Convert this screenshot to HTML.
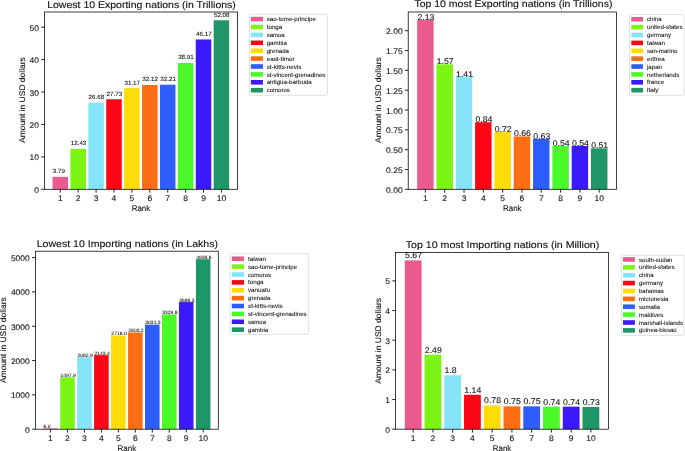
<!DOCTYPE html>
<html><head><meta charset="utf-8"><style>
html,body{margin:0;padding:0;background:#fff;width:685px;height:451px;overflow:hidden}
svg{display:block;font-family:"Liberation Sans",sans-serif;will-change:transform;text-rendering:geometricPrecision}
</style></head><body>
<svg width="685" height="451" viewBox="0 0 685 451">
<rect width="685" height="451" fill="#fff"/>
<rect x="52.52" y="176.86" width="15.52" height="12.44" fill="#ea5a8e"/>
<rect x="70.43" y="148.85" width="15.52" height="40.45" fill="#7cf514"/>
<rect x="88.33" y="102.65" width="15.52" height="86.65" fill="#86e4f8"/>
<rect x="106.23" y="99.24" width="15.52" height="90.06" fill="#fc0515"/>
<rect x="124.14" y="88.09" width="15.52" height="101.21" fill="#fddc0a"/>
<rect x="142.04" y="85.01" width="15.52" height="104.29" fill="#fd6e12"/>
<rect x="159.94" y="84.72" width="15.52" height="104.58" fill="#2d5efd"/>
<rect x="177.85" y="62.99" width="15.52" height="126.31" fill="#4cfa2a"/>
<rect x="195.75" y="39.45" width="15.52" height="149.85" fill="#3a1afa"/>
<rect x="213.65" y="20.29" width="15.52" height="169.01" fill="#1f9668"/>
<text x="52.82" y="173.31" font-size="6.01" text-anchor="start" textLength="12.16" lengthAdjust="spacingAndGlyphs" fill="#111" stroke="#111" stroke-width="0.072" >3.79</text>
<text x="70.73" y="145.30" font-size="6.01" text-anchor="start" textLength="15.63" lengthAdjust="spacingAndGlyphs" fill="#111" stroke="#111" stroke-width="0.072" >12.43</text>
<text x="88.63" y="99.10" font-size="6.01" text-anchor="start" textLength="15.63" lengthAdjust="spacingAndGlyphs" fill="#111" stroke="#111" stroke-width="0.072" >26.68</text>
<text x="106.53" y="95.69" font-size="6.01" text-anchor="start" textLength="15.63" lengthAdjust="spacingAndGlyphs" fill="#111" stroke="#111" stroke-width="0.072" >27.73</text>
<text x="124.44" y="84.54" font-size="6.01" text-anchor="start" textLength="15.63" lengthAdjust="spacingAndGlyphs" fill="#111" stroke="#111" stroke-width="0.072" >31.17</text>
<text x="142.34" y="81.46" font-size="6.01" text-anchor="start" textLength="15.63" lengthAdjust="spacingAndGlyphs" fill="#111" stroke="#111" stroke-width="0.072" >32.12</text>
<text x="160.24" y="81.17" font-size="6.01" text-anchor="start" textLength="15.63" lengthAdjust="spacingAndGlyphs" fill="#111" stroke="#111" stroke-width="0.072" >32.21</text>
<text x="178.15" y="59.44" font-size="6.01" text-anchor="start" textLength="15.63" lengthAdjust="spacingAndGlyphs" fill="#111" stroke="#111" stroke-width="0.072" >38.91</text>
<text x="196.05" y="35.90" font-size="6.01" text-anchor="start" textLength="15.63" lengthAdjust="spacingAndGlyphs" fill="#111" stroke="#111" stroke-width="0.072" >46.17</text>
<text x="213.95" y="16.74" font-size="6.01" text-anchor="start" textLength="15.63" lengthAdjust="spacingAndGlyphs" fill="#111" stroke="#111" stroke-width="0.072" >52.08</text>
<rect x="44.50" y="12.00" width="193.00" height="177.30" fill="none" stroke="#000" stroke-width="0.75"/>
<line x1="41.20" y1="189.30" x2="44.50" y2="189.30" stroke="#000" stroke-width="0.85"/>
<text x="38.90" y="192.85" font-size="8.16" text-anchor="end" textLength="4.72" lengthAdjust="spacingAndGlyphs" fill="#111" stroke="#111" stroke-width="0.098" >0</text>
<line x1="41.20" y1="156.88" x2="44.50" y2="156.88" stroke="#000" stroke-width="0.85"/>
<text x="38.90" y="160.43" font-size="8.16" text-anchor="end" textLength="9.44" lengthAdjust="spacingAndGlyphs" fill="#111" stroke="#111" stroke-width="0.098" >10</text>
<line x1="41.20" y1="124.45" x2="44.50" y2="124.45" stroke="#000" stroke-width="0.85"/>
<text x="38.90" y="128.00" font-size="8.16" text-anchor="end" textLength="9.44" lengthAdjust="spacingAndGlyphs" fill="#111" stroke="#111" stroke-width="0.098" >20</text>
<line x1="41.20" y1="92.03" x2="44.50" y2="92.03" stroke="#000" stroke-width="0.85"/>
<text x="38.90" y="95.58" font-size="8.16" text-anchor="end" textLength="9.44" lengthAdjust="spacingAndGlyphs" fill="#111" stroke="#111" stroke-width="0.098" >30</text>
<line x1="41.20" y1="59.61" x2="44.50" y2="59.61" stroke="#000" stroke-width="0.85"/>
<text x="38.90" y="63.16" font-size="8.16" text-anchor="end" textLength="9.44" lengthAdjust="spacingAndGlyphs" fill="#111" stroke="#111" stroke-width="0.098" >40</text>
<line x1="41.20" y1="27.19" x2="44.50" y2="27.19" stroke="#000" stroke-width="0.85"/>
<text x="38.90" y="30.74" font-size="8.16" text-anchor="end" textLength="9.44" lengthAdjust="spacingAndGlyphs" fill="#111" stroke="#111" stroke-width="0.098" >50</text>
<line x1="60.28" y1="189.30" x2="60.28" y2="192.60" stroke="#000" stroke-width="0.85"/>
<text x="60.28" y="201.20" font-size="8.16" text-anchor="middle" textLength="4.72" lengthAdjust="spacingAndGlyphs" fill="#111" stroke="#111" stroke-width="0.098" >1</text>
<line x1="78.19" y1="189.30" x2="78.19" y2="192.60" stroke="#000" stroke-width="0.85"/>
<text x="78.19" y="201.20" font-size="8.16" text-anchor="middle" textLength="4.72" lengthAdjust="spacingAndGlyphs" fill="#111" stroke="#111" stroke-width="0.098" >2</text>
<line x1="96.09" y1="189.30" x2="96.09" y2="192.60" stroke="#000" stroke-width="0.85"/>
<text x="96.09" y="201.20" font-size="8.16" text-anchor="middle" textLength="4.72" lengthAdjust="spacingAndGlyphs" fill="#111" stroke="#111" stroke-width="0.098" >3</text>
<line x1="113.99" y1="189.30" x2="113.99" y2="192.60" stroke="#000" stroke-width="0.85"/>
<text x="113.99" y="201.20" font-size="8.16" text-anchor="middle" textLength="4.72" lengthAdjust="spacingAndGlyphs" fill="#111" stroke="#111" stroke-width="0.098" >4</text>
<line x1="131.90" y1="189.30" x2="131.90" y2="192.60" stroke="#000" stroke-width="0.85"/>
<text x="131.90" y="201.20" font-size="8.16" text-anchor="middle" textLength="4.72" lengthAdjust="spacingAndGlyphs" fill="#111" stroke="#111" stroke-width="0.098" >5</text>
<line x1="149.80" y1="189.30" x2="149.80" y2="192.60" stroke="#000" stroke-width="0.85"/>
<text x="149.80" y="201.20" font-size="8.16" text-anchor="middle" textLength="4.72" lengthAdjust="spacingAndGlyphs" fill="#111" stroke="#111" stroke-width="0.098" >6</text>
<line x1="167.71" y1="189.30" x2="167.71" y2="192.60" stroke="#000" stroke-width="0.85"/>
<text x="167.71" y="201.20" font-size="8.16" text-anchor="middle" textLength="4.72" lengthAdjust="spacingAndGlyphs" fill="#111" stroke="#111" stroke-width="0.098" >7</text>
<line x1="185.61" y1="189.30" x2="185.61" y2="192.60" stroke="#000" stroke-width="0.85"/>
<text x="185.61" y="201.20" font-size="8.16" text-anchor="middle" textLength="4.72" lengthAdjust="spacingAndGlyphs" fill="#111" stroke="#111" stroke-width="0.098" >8</text>
<line x1="203.51" y1="189.30" x2="203.51" y2="192.60" stroke="#000" stroke-width="0.85"/>
<text x="203.51" y="201.20" font-size="8.16" text-anchor="middle" textLength="4.72" lengthAdjust="spacingAndGlyphs" fill="#111" stroke="#111" stroke-width="0.098" >9</text>
<line x1="221.42" y1="189.30" x2="221.42" y2="192.60" stroke="#000" stroke-width="0.85"/>
<text x="221.42" y="201.20" font-size="8.16" text-anchor="middle" textLength="9.44" lengthAdjust="spacingAndGlyphs" fill="#111" stroke="#111" stroke-width="0.098" >10</text>
<text x="141.00" y="211.20" font-size="8.16" text-anchor="middle" textLength="18.54" lengthAdjust="spacingAndGlyphs" fill="#111" stroke="#111" stroke-width="0.098" >Rank</text>
<text x="0.00" y="0.00" font-size="8.16" text-anchor="middle" textLength="85.78" lengthAdjust="spacingAndGlyphs" fill="#111" stroke="#111" stroke-width="0.098" transform="translate(25.00,100.05) rotate(-90)">Amount in USD dollars</text>
<text x="141.50" y="7.55" font-size="9.75" text-anchor="middle" textLength="188.65" lengthAdjust="spacingAndGlyphs" fill="#111" stroke="#111" stroke-width="0.117" >Lowest 10 Exporting nations (in Trillions)</text>
<rect x="249.40" y="14.30" width="78.10" height="81.00" rx="1.2" fill="#fff" fill-opacity="0.8" stroke="#d6dcd8" stroke-width="0.8"/>
<rect x="250.90" y="16.80" width="12.10" height="4.60" fill="#ea5a8e"/>
<text x="266.70" y="21.20" font-size="5.94" text-anchor="start" textLength="49.22" lengthAdjust="spacingAndGlyphs" fill="#111" stroke="#111" stroke-width="0.071" >sao-tome-principe</text>
<rect x="250.90" y="24.70" width="12.10" height="4.60" fill="#7cf514"/>
<text x="266.70" y="29.10" font-size="5.94" text-anchor="start" textLength="15.58" lengthAdjust="spacingAndGlyphs" fill="#111" stroke="#111" stroke-width="0.071" >tonga</text>
<rect x="250.90" y="32.60" width="12.10" height="4.60" fill="#86e4f8"/>
<text x="266.70" y="37.00" font-size="5.94" text-anchor="start" textLength="18.00" lengthAdjust="spacingAndGlyphs" fill="#111" stroke="#111" stroke-width="0.071" >samoa</text>
<rect x="250.90" y="40.50" width="12.10" height="4.60" fill="#fc0515"/>
<text x="266.70" y="44.90" font-size="5.94" text-anchor="start" textLength="20.23" lengthAdjust="spacingAndGlyphs" fill="#111" stroke="#111" stroke-width="0.071" >gambia</text>
<rect x="250.90" y="48.40" width="12.10" height="4.60" fill="#fddc0a"/>
<text x="266.70" y="52.80" font-size="5.94" text-anchor="start" textLength="22.32" lengthAdjust="spacingAndGlyphs" fill="#111" stroke="#111" stroke-width="0.071" >grenada</text>
<rect x="250.90" y="56.30" width="12.10" height="4.60" fill="#fd6e12"/>
<text x="266.70" y="60.70" font-size="5.94" text-anchor="start" textLength="27.91" lengthAdjust="spacingAndGlyphs" fill="#111" stroke="#111" stroke-width="0.071" >east-timor</text>
<rect x="250.90" y="64.20" width="12.10" height="4.60" fill="#2d5efd"/>
<text x="266.70" y="68.60" font-size="5.94" text-anchor="start" textLength="34.76" lengthAdjust="spacingAndGlyphs" fill="#111" stroke="#111" stroke-width="0.071" >st-kitts-nevis</text>
<rect x="250.90" y="72.10" width="12.10" height="4.60" fill="#4cfa2a"/>
<text x="266.70" y="76.50" font-size="5.94" text-anchor="start" textLength="58.70" lengthAdjust="spacingAndGlyphs" fill="#111" stroke="#111" stroke-width="0.071" >st-vincent-grenadines</text>
<rect x="250.90" y="80.00" width="12.10" height="4.60" fill="#3a1afa"/>
<text x="266.70" y="84.40" font-size="5.94" text-anchor="start" textLength="45.00" lengthAdjust="spacingAndGlyphs" fill="#111" stroke="#111" stroke-width="0.071" >antigua-barbuda</text>
<rect x="250.90" y="87.90" width="12.10" height="4.60" fill="#1f9668"/>
<text x="266.70" y="92.30" font-size="5.94" text-anchor="start" textLength="23.06" lengthAdjust="spacingAndGlyphs" fill="#111" stroke="#111" stroke-width="0.071" >comoros</text>
<rect x="417.16" y="19.94" width="16.45" height="169.36" fill="#ea5a8e"/>
<rect x="436.48" y="64.34" width="16.45" height="124.96" fill="#7cf514"/>
<rect x="455.79" y="77.02" width="16.45" height="112.28" fill="#86e4f8"/>
<rect x="475.10" y="122.21" width="16.45" height="67.09" fill="#fc0515"/>
<rect x="494.42" y="131.72" width="16.45" height="57.58" fill="#fddc0a"/>
<rect x="513.73" y="136.48" width="16.45" height="52.82" fill="#fd6e12"/>
<rect x="533.04" y="138.86" width="16.45" height="50.44" fill="#2d5efd"/>
<rect x="552.36" y="145.99" width="16.45" height="43.31" fill="#4cfa2a"/>
<rect x="571.67" y="145.99" width="16.45" height="43.31" fill="#3a1afa"/>
<rect x="590.99" y="148.37" width="16.45" height="40.93" fill="#1f9668"/>
<text x="417.46" y="19.94" font-size="8.36" text-anchor="start" textLength="16.92" lengthAdjust="spacingAndGlyphs" fill="#111" stroke="#111" stroke-width="0.100" >2.13</text>
<text x="436.78" y="64.34" font-size="8.36" text-anchor="start" textLength="16.92" lengthAdjust="spacingAndGlyphs" fill="#111" stroke="#111" stroke-width="0.100" >1.57</text>
<text x="456.09" y="77.02" font-size="8.36" text-anchor="start" textLength="16.92" lengthAdjust="spacingAndGlyphs" fill="#111" stroke="#111" stroke-width="0.100" >1.41</text>
<text x="475.40" y="122.21" font-size="8.36" text-anchor="start" textLength="16.92" lengthAdjust="spacingAndGlyphs" fill="#111" stroke="#111" stroke-width="0.100" >0.84</text>
<text x="494.72" y="131.72" font-size="8.36" text-anchor="start" textLength="16.92" lengthAdjust="spacingAndGlyphs" fill="#111" stroke="#111" stroke-width="0.100" >0.72</text>
<text x="514.03" y="136.48" font-size="8.36" text-anchor="start" textLength="16.92" lengthAdjust="spacingAndGlyphs" fill="#111" stroke="#111" stroke-width="0.100" >0.66</text>
<text x="533.34" y="138.86" font-size="8.36" text-anchor="start" textLength="16.92" lengthAdjust="spacingAndGlyphs" fill="#111" stroke="#111" stroke-width="0.100" >0.63</text>
<text x="552.66" y="145.99" font-size="8.36" text-anchor="start" textLength="16.92" lengthAdjust="spacingAndGlyphs" fill="#111" stroke="#111" stroke-width="0.100" >0.54</text>
<text x="571.97" y="145.99" font-size="8.36" text-anchor="start" textLength="16.92" lengthAdjust="spacingAndGlyphs" fill="#111" stroke="#111" stroke-width="0.100" >0.54</text>
<text x="591.29" y="148.37" font-size="8.36" text-anchor="start" textLength="16.92" lengthAdjust="spacingAndGlyphs" fill="#111" stroke="#111" stroke-width="0.100" >0.51</text>
<rect x="408.20" y="12.00" width="208.20" height="177.30" fill="none" stroke="#000" stroke-width="0.75"/>
<line x1="404.90" y1="189.30" x2="408.20" y2="189.30" stroke="#000" stroke-width="0.85"/>
<text x="402.60" y="192.85" font-size="8.16" text-anchor="end" textLength="16.52" lengthAdjust="spacingAndGlyphs" fill="#111" stroke="#111" stroke-width="0.098" >0.00</text>
<line x1="404.90" y1="169.48" x2="408.20" y2="169.48" stroke="#000" stroke-width="0.85"/>
<text x="402.60" y="173.03" font-size="8.16" text-anchor="end" textLength="16.52" lengthAdjust="spacingAndGlyphs" fill="#111" stroke="#111" stroke-width="0.098" >0.25</text>
<line x1="404.90" y1="149.66" x2="408.20" y2="149.66" stroke="#000" stroke-width="0.85"/>
<text x="402.60" y="153.21" font-size="8.16" text-anchor="end" textLength="16.52" lengthAdjust="spacingAndGlyphs" fill="#111" stroke="#111" stroke-width="0.098" >0.50</text>
<line x1="404.90" y1="129.84" x2="408.20" y2="129.84" stroke="#000" stroke-width="0.85"/>
<text x="402.60" y="133.39" font-size="8.16" text-anchor="end" textLength="16.52" lengthAdjust="spacingAndGlyphs" fill="#111" stroke="#111" stroke-width="0.098" >0.75</text>
<line x1="404.90" y1="110.02" x2="408.20" y2="110.02" stroke="#000" stroke-width="0.85"/>
<text x="402.60" y="113.57" font-size="8.16" text-anchor="end" textLength="16.52" lengthAdjust="spacingAndGlyphs" fill="#111" stroke="#111" stroke-width="0.098" >1.00</text>
<line x1="404.90" y1="90.21" x2="408.20" y2="90.21" stroke="#000" stroke-width="0.85"/>
<text x="402.60" y="93.76" font-size="8.16" text-anchor="end" textLength="16.52" lengthAdjust="spacingAndGlyphs" fill="#111" stroke="#111" stroke-width="0.098" >1.25</text>
<line x1="404.90" y1="70.39" x2="408.20" y2="70.39" stroke="#000" stroke-width="0.85"/>
<text x="402.60" y="73.94" font-size="8.16" text-anchor="end" textLength="16.52" lengthAdjust="spacingAndGlyphs" fill="#111" stroke="#111" stroke-width="0.098" >1.50</text>
<line x1="404.90" y1="50.57" x2="408.20" y2="50.57" stroke="#000" stroke-width="0.85"/>
<text x="402.60" y="54.12" font-size="8.16" text-anchor="end" textLength="16.52" lengthAdjust="spacingAndGlyphs" fill="#111" stroke="#111" stroke-width="0.098" >1.75</text>
<line x1="404.90" y1="30.75" x2="408.20" y2="30.75" stroke="#000" stroke-width="0.85"/>
<text x="402.60" y="34.30" font-size="8.16" text-anchor="end" textLength="16.52" lengthAdjust="spacingAndGlyphs" fill="#111" stroke="#111" stroke-width="0.098" >2.00</text>
<line x1="425.39" y1="189.30" x2="425.39" y2="192.60" stroke="#000" stroke-width="0.85"/>
<text x="425.39" y="201.20" font-size="8.16" text-anchor="middle" textLength="4.72" lengthAdjust="spacingAndGlyphs" fill="#111" stroke="#111" stroke-width="0.098" >1</text>
<line x1="444.70" y1="189.30" x2="444.70" y2="192.60" stroke="#000" stroke-width="0.85"/>
<text x="444.70" y="201.20" font-size="8.16" text-anchor="middle" textLength="4.72" lengthAdjust="spacingAndGlyphs" fill="#111" stroke="#111" stroke-width="0.098" >2</text>
<line x1="464.02" y1="189.30" x2="464.02" y2="192.60" stroke="#000" stroke-width="0.85"/>
<text x="464.02" y="201.20" font-size="8.16" text-anchor="middle" textLength="4.72" lengthAdjust="spacingAndGlyphs" fill="#111" stroke="#111" stroke-width="0.098" >3</text>
<line x1="483.33" y1="189.30" x2="483.33" y2="192.60" stroke="#000" stroke-width="0.85"/>
<text x="483.33" y="201.20" font-size="8.16" text-anchor="middle" textLength="4.72" lengthAdjust="spacingAndGlyphs" fill="#111" stroke="#111" stroke-width="0.098" >4</text>
<line x1="502.64" y1="189.30" x2="502.64" y2="192.60" stroke="#000" stroke-width="0.85"/>
<text x="502.64" y="201.20" font-size="8.16" text-anchor="middle" textLength="4.72" lengthAdjust="spacingAndGlyphs" fill="#111" stroke="#111" stroke-width="0.098" >5</text>
<line x1="521.96" y1="189.30" x2="521.96" y2="192.60" stroke="#000" stroke-width="0.85"/>
<text x="521.96" y="201.20" font-size="8.16" text-anchor="middle" textLength="4.72" lengthAdjust="spacingAndGlyphs" fill="#111" stroke="#111" stroke-width="0.098" >6</text>
<line x1="541.27" y1="189.30" x2="541.27" y2="192.60" stroke="#000" stroke-width="0.85"/>
<text x="541.27" y="201.20" font-size="8.16" text-anchor="middle" textLength="4.72" lengthAdjust="spacingAndGlyphs" fill="#111" stroke="#111" stroke-width="0.098" >7</text>
<line x1="560.58" y1="189.30" x2="560.58" y2="192.60" stroke="#000" stroke-width="0.85"/>
<text x="560.58" y="201.20" font-size="8.16" text-anchor="middle" textLength="4.72" lengthAdjust="spacingAndGlyphs" fill="#111" stroke="#111" stroke-width="0.098" >8</text>
<line x1="579.90" y1="189.30" x2="579.90" y2="192.60" stroke="#000" stroke-width="0.85"/>
<text x="579.90" y="201.20" font-size="8.16" text-anchor="middle" textLength="4.72" lengthAdjust="spacingAndGlyphs" fill="#111" stroke="#111" stroke-width="0.098" >9</text>
<line x1="599.21" y1="189.30" x2="599.21" y2="192.60" stroke="#000" stroke-width="0.85"/>
<text x="599.21" y="201.20" font-size="8.16" text-anchor="middle" textLength="9.44" lengthAdjust="spacingAndGlyphs" fill="#111" stroke="#111" stroke-width="0.098" >10</text>
<text x="512.30" y="211.20" font-size="8.16" text-anchor="middle" textLength="18.54" lengthAdjust="spacingAndGlyphs" fill="#111" stroke="#111" stroke-width="0.098" >Rank</text>
<text x="0.00" y="0.00" font-size="8.16" text-anchor="middle" textLength="85.78" lengthAdjust="spacingAndGlyphs" fill="#111" stroke="#111" stroke-width="0.098" transform="translate(381.30,100.05) rotate(-90)">Amount in USD dollars</text>
<text x="513.40" y="7.25" font-size="9.75" text-anchor="middle" textLength="198.01" lengthAdjust="spacingAndGlyphs" fill="#111" stroke="#111" stroke-width="0.117" >Top 10 most Exporting nations (in Trillions)</text>
<rect x="629.60" y="14.60" width="54.60" height="80.70" rx="1.2" fill="#fff" fill-opacity="0.8" stroke="#d6dcd8" stroke-width="0.8"/>
<rect x="631.30" y="16.95" width="11.70" height="4.60" fill="#ea5a8e"/>
<text x="647.00" y="21.35" font-size="5.94" text-anchor="start" textLength="14.62" lengthAdjust="spacingAndGlyphs" fill="#111" stroke="#111" stroke-width="0.071" >china</text>
<rect x="631.30" y="24.83" width="11.70" height="4.60" fill="#7cf514"/>
<text x="647.00" y="29.23" font-size="5.94" text-anchor="start" textLength="35.65" lengthAdjust="spacingAndGlyphs" fill="#111" stroke="#111" stroke-width="0.071" >united-states</text>
<rect x="631.30" y="32.71" width="11.70" height="4.60" fill="#86e4f8"/>
<text x="647.00" y="37.11" font-size="5.94" text-anchor="start" textLength="24.06" lengthAdjust="spacingAndGlyphs" fill="#111" stroke="#111" stroke-width="0.071" >germany</text>
<rect x="631.30" y="40.59" width="11.70" height="4.60" fill="#fc0515"/>
<text x="647.00" y="44.99" font-size="5.94" text-anchor="start" textLength="18.07" lengthAdjust="spacingAndGlyphs" fill="#111" stroke="#111" stroke-width="0.071" >taiwan</text>
<rect x="631.30" y="48.47" width="11.70" height="4.60" fill="#fddc0a"/>
<text x="647.00" y="52.87" font-size="5.94" text-anchor="start" textLength="30.51" lengthAdjust="spacingAndGlyphs" fill="#111" stroke="#111" stroke-width="0.071" >san-marino</text>
<rect x="631.30" y="56.35" width="11.70" height="4.60" fill="#fd6e12"/>
<text x="647.00" y="60.75" font-size="5.94" text-anchor="start" textLength="17.89" lengthAdjust="spacingAndGlyphs" fill="#111" stroke="#111" stroke-width="0.071" >eritrea</text>
<rect x="631.30" y="64.23" width="11.70" height="4.60" fill="#2d5efd"/>
<text x="647.00" y="68.63" font-size="5.94" text-anchor="start" textLength="14.97" lengthAdjust="spacingAndGlyphs" fill="#111" stroke="#111" stroke-width="0.071" >japan</text>
<rect x="631.30" y="72.11" width="11.70" height="4.60" fill="#4cfa2a"/>
<text x="647.00" y="76.51" font-size="5.94" text-anchor="start" textLength="32.30" lengthAdjust="spacingAndGlyphs" fill="#111" stroke="#111" stroke-width="0.071" >netherlands</text>
<rect x="631.30" y="79.99" width="11.70" height="4.60" fill="#3a1afa"/>
<text x="647.00" y="84.39" font-size="5.94" text-anchor="start" textLength="17.14" lengthAdjust="spacingAndGlyphs" fill="#111" stroke="#111" stroke-width="0.071" >france</text>
<rect x="631.30" y="87.87" width="11.70" height="4.60" fill="#1f9668"/>
<text x="647.00" y="92.27" font-size="5.94" text-anchor="start" textLength="11.62" lengthAdjust="spacingAndGlyphs" fill="#111" stroke="#111" stroke-width="0.071" >italy</text>
<rect x="43.21" y="428.49" width="14.57" height="0.71" fill="#ea5a8e"/>
<rect x="60.18" y="377.28" width="14.57" height="51.92" fill="#7cf514"/>
<rect x="77.15" y="357.20" width="14.57" height="72.00" fill="#86e4f8"/>
<rect x="94.11" y="355.13" width="14.57" height="74.07" fill="#fc0515"/>
<rect x="111.08" y="335.47" width="14.57" height="93.73" fill="#fddc0a"/>
<rect x="128.05" y="332.48" width="14.57" height="96.72" fill="#fd6e12"/>
<rect x="145.01" y="324.65" width="14.57" height="104.55" fill="#2d5efd"/>
<rect x="161.98" y="314.40" width="14.57" height="114.80" fill="#4cfa2a"/>
<rect x="178.95" y="302.09" width="14.57" height="127.11" fill="#3a1afa"/>
<rect x="195.91" y="259.18" width="14.57" height="170.02" fill="#1f9668"/>
<text x="43.51" y="428.09" font-size="4.81" text-anchor="start" textLength="6.95" lengthAdjust="spacingAndGlyphs" fill="#111" stroke="#111" stroke-width="0.058" >6.0</text>
<text x="60.48" y="376.88" font-size="4.81" text-anchor="start" textLength="15.29" lengthAdjust="spacingAndGlyphs" fill="#111" stroke="#111" stroke-width="0.058" >1497.9</text>
<text x="77.45" y="356.80" font-size="4.81" text-anchor="start" textLength="15.29" lengthAdjust="spacingAndGlyphs" fill="#111" stroke="#111" stroke-width="0.058" >2082.9</text>
<text x="94.41" y="354.73" font-size="4.81" text-anchor="start" textLength="15.29" lengthAdjust="spacingAndGlyphs" fill="#111" stroke="#111" stroke-width="0.058" >2143.4</text>
<text x="111.38" y="335.07" font-size="4.81" text-anchor="start" textLength="15.29" lengthAdjust="spacingAndGlyphs" fill="#111" stroke="#111" stroke-width="0.058" >2716.0</text>
<text x="128.35" y="332.08" font-size="4.81" text-anchor="start" textLength="15.29" lengthAdjust="spacingAndGlyphs" fill="#111" stroke="#111" stroke-width="0.058" >2803.2</text>
<text x="145.31" y="324.25" font-size="4.81" text-anchor="start" textLength="15.29" lengthAdjust="spacingAndGlyphs" fill="#111" stroke="#111" stroke-width="0.058" >3031.3</text>
<text x="162.28" y="314.00" font-size="4.81" text-anchor="start" textLength="15.29" lengthAdjust="spacingAndGlyphs" fill="#111" stroke="#111" stroke-width="0.058" >3329.8</text>
<text x="179.25" y="301.69" font-size="4.81" text-anchor="start" textLength="15.29" lengthAdjust="spacingAndGlyphs" fill="#111" stroke="#111" stroke-width="0.058" >3688.3</text>
<text x="196.21" y="258.78" font-size="4.81" text-anchor="start" textLength="15.29" lengthAdjust="spacingAndGlyphs" fill="#111" stroke="#111" stroke-width="0.058" >4938.6</text>
<rect x="35.40" y="251.20" width="182.90" height="178.00" fill="none" stroke="#000" stroke-width="0.75"/>
<line x1="32.10" y1="429.20" x2="35.40" y2="429.20" stroke="#000" stroke-width="0.85"/>
<text x="29.80" y="432.75" font-size="8.16" text-anchor="end" textLength="4.72" lengthAdjust="spacingAndGlyphs" fill="#111" stroke="#111" stroke-width="0.098" >0</text>
<line x1="32.10" y1="394.87" x2="35.40" y2="394.87" stroke="#000" stroke-width="0.85"/>
<text x="29.80" y="398.42" font-size="8.16" text-anchor="end" textLength="18.88" lengthAdjust="spacingAndGlyphs" fill="#111" stroke="#111" stroke-width="0.098" >1000</text>
<line x1="32.10" y1="360.55" x2="35.40" y2="360.55" stroke="#000" stroke-width="0.85"/>
<text x="29.80" y="364.10" font-size="8.16" text-anchor="end" textLength="18.88" lengthAdjust="spacingAndGlyphs" fill="#111" stroke="#111" stroke-width="0.098" >2000</text>
<line x1="32.10" y1="326.22" x2="35.40" y2="326.22" stroke="#000" stroke-width="0.85"/>
<text x="29.80" y="329.77" font-size="8.16" text-anchor="end" textLength="18.88" lengthAdjust="spacingAndGlyphs" fill="#111" stroke="#111" stroke-width="0.098" >3000</text>
<line x1="32.10" y1="291.89" x2="35.40" y2="291.89" stroke="#000" stroke-width="0.85"/>
<text x="29.80" y="295.44" font-size="8.16" text-anchor="end" textLength="18.88" lengthAdjust="spacingAndGlyphs" fill="#111" stroke="#111" stroke-width="0.098" >4000</text>
<line x1="32.10" y1="257.57" x2="35.40" y2="257.57" stroke="#000" stroke-width="0.85"/>
<text x="29.80" y="261.12" font-size="8.16" text-anchor="end" textLength="18.88" lengthAdjust="spacingAndGlyphs" fill="#111" stroke="#111" stroke-width="0.098" >5000</text>
<line x1="50.50" y1="429.20" x2="50.50" y2="432.50" stroke="#000" stroke-width="0.85"/>
<text x="50.50" y="441.10" font-size="8.16" text-anchor="middle" textLength="4.72" lengthAdjust="spacingAndGlyphs" fill="#111" stroke="#111" stroke-width="0.098" >1</text>
<line x1="67.47" y1="429.20" x2="67.47" y2="432.50" stroke="#000" stroke-width="0.85"/>
<text x="67.47" y="441.10" font-size="8.16" text-anchor="middle" textLength="4.72" lengthAdjust="spacingAndGlyphs" fill="#111" stroke="#111" stroke-width="0.098" >2</text>
<line x1="84.43" y1="429.20" x2="84.43" y2="432.50" stroke="#000" stroke-width="0.85"/>
<text x="84.43" y="441.10" font-size="8.16" text-anchor="middle" textLength="4.72" lengthAdjust="spacingAndGlyphs" fill="#111" stroke="#111" stroke-width="0.098" >3</text>
<line x1="101.40" y1="429.20" x2="101.40" y2="432.50" stroke="#000" stroke-width="0.85"/>
<text x="101.40" y="441.10" font-size="8.16" text-anchor="middle" textLength="4.72" lengthAdjust="spacingAndGlyphs" fill="#111" stroke="#111" stroke-width="0.098" >4</text>
<line x1="118.37" y1="429.20" x2="118.37" y2="432.50" stroke="#000" stroke-width="0.85"/>
<text x="118.37" y="441.10" font-size="8.16" text-anchor="middle" textLength="4.72" lengthAdjust="spacingAndGlyphs" fill="#111" stroke="#111" stroke-width="0.098" >5</text>
<line x1="135.33" y1="429.20" x2="135.33" y2="432.50" stroke="#000" stroke-width="0.85"/>
<text x="135.33" y="441.10" font-size="8.16" text-anchor="middle" textLength="4.72" lengthAdjust="spacingAndGlyphs" fill="#111" stroke="#111" stroke-width="0.098" >6</text>
<line x1="152.30" y1="429.20" x2="152.30" y2="432.50" stroke="#000" stroke-width="0.85"/>
<text x="152.30" y="441.10" font-size="8.16" text-anchor="middle" textLength="4.72" lengthAdjust="spacingAndGlyphs" fill="#111" stroke="#111" stroke-width="0.098" >7</text>
<line x1="169.27" y1="429.20" x2="169.27" y2="432.50" stroke="#000" stroke-width="0.85"/>
<text x="169.27" y="441.10" font-size="8.16" text-anchor="middle" textLength="4.72" lengthAdjust="spacingAndGlyphs" fill="#111" stroke="#111" stroke-width="0.098" >8</text>
<line x1="186.23" y1="429.20" x2="186.23" y2="432.50" stroke="#000" stroke-width="0.85"/>
<text x="186.23" y="441.10" font-size="8.16" text-anchor="middle" textLength="4.72" lengthAdjust="spacingAndGlyphs" fill="#111" stroke="#111" stroke-width="0.098" >9</text>
<line x1="203.20" y1="429.20" x2="203.20" y2="432.50" stroke="#000" stroke-width="0.85"/>
<text x="203.20" y="441.10" font-size="8.16" text-anchor="middle" textLength="9.44" lengthAdjust="spacingAndGlyphs" fill="#111" stroke="#111" stroke-width="0.098" >10</text>
<text x="126.85" y="450.50" font-size="8.16" text-anchor="middle" textLength="18.54" lengthAdjust="spacingAndGlyphs" fill="#111" stroke="#111" stroke-width="0.098" >Rank</text>
<text x="0.00" y="0.00" font-size="8.16" text-anchor="middle" textLength="85.78" lengthAdjust="spacingAndGlyphs" fill="#111" stroke="#111" stroke-width="0.098" transform="translate(6.30,340.20) rotate(-90)">Amount in USD dollars</text>
<text x="127.35" y="246.75" font-size="9.75" text-anchor="middle" textLength="181.19" lengthAdjust="spacingAndGlyphs" fill="#111" stroke="#111" stroke-width="0.117" >Lowest 10 Importing nations (in Lakhs)</text>
<rect x="230.10" y="253.80" width="78.30" height="80.60" rx="1.2" fill="#fff" fill-opacity="0.8" stroke="#d6dcd8" stroke-width="0.8"/>
<rect x="231.80" y="256.45" width="12.20" height="4.60" fill="#ea5a8e"/>
<text x="248.00" y="260.85" font-size="5.94" text-anchor="start" textLength="18.07" lengthAdjust="spacingAndGlyphs" fill="#111" stroke="#111" stroke-width="0.071" >taiwan</text>
<rect x="231.80" y="264.33" width="12.20" height="4.60" fill="#7cf514"/>
<text x="248.00" y="268.73" font-size="5.94" text-anchor="start" textLength="49.22" lengthAdjust="spacingAndGlyphs" fill="#111" stroke="#111" stroke-width="0.071" >sao-tome-principe</text>
<rect x="231.80" y="272.21" width="12.20" height="4.60" fill="#86e4f8"/>
<text x="248.00" y="276.61" font-size="5.94" text-anchor="start" textLength="23.06" lengthAdjust="spacingAndGlyphs" fill="#111" stroke="#111" stroke-width="0.071" >comoros</text>
<rect x="231.80" y="280.09" width="12.20" height="4.60" fill="#fc0515"/>
<text x="248.00" y="284.49" font-size="5.94" text-anchor="start" textLength="15.58" lengthAdjust="spacingAndGlyphs" fill="#111" stroke="#111" stroke-width="0.071" >tonga</text>
<rect x="231.80" y="287.97" width="12.20" height="4.60" fill="#fddc0a"/>
<text x="248.00" y="292.37" font-size="5.94" text-anchor="start" textLength="22.20" lengthAdjust="spacingAndGlyphs" fill="#111" stroke="#111" stroke-width="0.071" >vanuatu</text>
<rect x="231.80" y="295.85" width="12.20" height="4.60" fill="#fd6e12"/>
<text x="248.00" y="300.25" font-size="5.94" text-anchor="start" textLength="22.32" lengthAdjust="spacingAndGlyphs" fill="#111" stroke="#111" stroke-width="0.071" >grenada</text>
<rect x="231.80" y="303.73" width="12.20" height="4.60" fill="#2d5efd"/>
<text x="248.00" y="308.13" font-size="5.94" text-anchor="start" textLength="34.76" lengthAdjust="spacingAndGlyphs" fill="#111" stroke="#111" stroke-width="0.071" >st-kitts-nevis</text>
<rect x="231.80" y="311.61" width="12.20" height="4.60" fill="#4cfa2a"/>
<text x="248.00" y="316.01" font-size="5.94" text-anchor="start" textLength="58.70" lengthAdjust="spacingAndGlyphs" fill="#111" stroke="#111" stroke-width="0.071" >st-vincent-grenadines</text>
<rect x="231.80" y="319.49" width="12.20" height="4.60" fill="#3a1afa"/>
<text x="248.00" y="323.89" font-size="5.94" text-anchor="start" textLength="18.00" lengthAdjust="spacingAndGlyphs" fill="#111" stroke="#111" stroke-width="0.071" >samoa</text>
<rect x="231.80" y="327.37" width="12.20" height="4.60" fill="#1f9668"/>
<text x="248.00" y="331.77" font-size="5.94" text-anchor="start" textLength="20.23" lengthAdjust="spacingAndGlyphs" fill="#111" stroke="#111" stroke-width="0.071" >gambia</text>
<rect x="404.78" y="260.41" width="16.80" height="168.79" fill="#ea5a8e"/>
<rect x="424.53" y="354.74" width="16.80" height="74.46" fill="#7cf514"/>
<rect x="444.28" y="375.21" width="16.80" height="53.99" fill="#86e4f8"/>
<rect x="464.03" y="394.78" width="16.80" height="34.42" fill="#fc0515"/>
<rect x="483.78" y="405.46" width="16.80" height="23.74" fill="#fddc0a"/>
<rect x="503.52" y="406.35" width="16.80" height="22.85" fill="#fd6e12"/>
<rect x="523.27" y="406.35" width="16.80" height="22.85" fill="#2d5efd"/>
<rect x="543.02" y="406.65" width="16.80" height="22.55" fill="#4cfa2a"/>
<rect x="562.77" y="406.65" width="16.80" height="22.55" fill="#3a1afa"/>
<rect x="582.52" y="406.95" width="16.80" height="22.25" fill="#1f9668"/>
<text x="405.08" y="258.31" font-size="8.36" text-anchor="start" textLength="16.92" lengthAdjust="spacingAndGlyphs" fill="#111" stroke="#111" stroke-width="0.100" >5.67</text>
<text x="424.83" y="352.64" font-size="8.36" text-anchor="start" textLength="16.92" lengthAdjust="spacingAndGlyphs" fill="#111" stroke="#111" stroke-width="0.100" >2.49</text>
<text x="444.58" y="373.11" font-size="8.36" text-anchor="start" textLength="12.09" lengthAdjust="spacingAndGlyphs" fill="#111" stroke="#111" stroke-width="0.100" >1.8</text>
<text x="464.33" y="392.68" font-size="8.36" text-anchor="start" textLength="16.92" lengthAdjust="spacingAndGlyphs" fill="#111" stroke="#111" stroke-width="0.100" >1.14</text>
<text x="484.08" y="403.36" font-size="8.36" text-anchor="start" textLength="16.92" lengthAdjust="spacingAndGlyphs" fill="#111" stroke="#111" stroke-width="0.100" >0.78</text>
<text x="503.82" y="404.25" font-size="8.36" text-anchor="start" textLength="16.92" lengthAdjust="spacingAndGlyphs" fill="#111" stroke="#111" stroke-width="0.100" >0.75</text>
<text x="523.57" y="404.25" font-size="8.36" text-anchor="start" textLength="16.92" lengthAdjust="spacingAndGlyphs" fill="#111" stroke="#111" stroke-width="0.100" >0.75</text>
<text x="543.32" y="404.55" font-size="8.36" text-anchor="start" textLength="16.92" lengthAdjust="spacingAndGlyphs" fill="#111" stroke="#111" stroke-width="0.100" >0.74</text>
<text x="563.07" y="404.55" font-size="8.36" text-anchor="start" textLength="16.92" lengthAdjust="spacingAndGlyphs" fill="#111" stroke="#111" stroke-width="0.100" >0.74</text>
<text x="582.82" y="404.85" font-size="8.36" text-anchor="start" textLength="16.92" lengthAdjust="spacingAndGlyphs" fill="#111" stroke="#111" stroke-width="0.100" >0.73</text>
<rect x="395.60" y="252.60" width="212.90" height="176.60" fill="none" stroke="#000" stroke-width="0.75"/>
<line x1="392.30" y1="429.20" x2="395.60" y2="429.20" stroke="#000" stroke-width="0.85"/>
<text x="390.00" y="432.75" font-size="8.16" text-anchor="end" textLength="4.72" lengthAdjust="spacingAndGlyphs" fill="#111" stroke="#111" stroke-width="0.098" >0</text>
<line x1="392.30" y1="399.54" x2="395.60" y2="399.54" stroke="#000" stroke-width="0.85"/>
<text x="390.00" y="403.09" font-size="8.16" text-anchor="end" textLength="4.72" lengthAdjust="spacingAndGlyphs" fill="#111" stroke="#111" stroke-width="0.098" >1</text>
<line x1="392.30" y1="369.87" x2="395.60" y2="369.87" stroke="#000" stroke-width="0.85"/>
<text x="390.00" y="373.42" font-size="8.16" text-anchor="end" textLength="4.72" lengthAdjust="spacingAndGlyphs" fill="#111" stroke="#111" stroke-width="0.098" >2</text>
<line x1="392.30" y1="340.21" x2="395.60" y2="340.21" stroke="#000" stroke-width="0.85"/>
<text x="390.00" y="343.76" font-size="8.16" text-anchor="end" textLength="4.72" lengthAdjust="spacingAndGlyphs" fill="#111" stroke="#111" stroke-width="0.098" >3</text>
<line x1="392.30" y1="310.55" x2="395.60" y2="310.55" stroke="#000" stroke-width="0.85"/>
<text x="390.00" y="314.10" font-size="8.16" text-anchor="end" textLength="4.72" lengthAdjust="spacingAndGlyphs" fill="#111" stroke="#111" stroke-width="0.098" >4</text>
<line x1="392.30" y1="280.88" x2="395.60" y2="280.88" stroke="#000" stroke-width="0.85"/>
<text x="390.00" y="284.43" font-size="8.16" text-anchor="end" textLength="4.72" lengthAdjust="spacingAndGlyphs" fill="#111" stroke="#111" stroke-width="0.098" >5</text>
<line x1="413.18" y1="429.20" x2="413.18" y2="432.50" stroke="#000" stroke-width="0.85"/>
<text x="413.18" y="441.10" font-size="8.16" text-anchor="middle" textLength="4.72" lengthAdjust="spacingAndGlyphs" fill="#111" stroke="#111" stroke-width="0.098" >1</text>
<line x1="432.93" y1="429.20" x2="432.93" y2="432.50" stroke="#000" stroke-width="0.85"/>
<text x="432.93" y="441.10" font-size="8.16" text-anchor="middle" textLength="4.72" lengthAdjust="spacingAndGlyphs" fill="#111" stroke="#111" stroke-width="0.098" >2</text>
<line x1="452.68" y1="429.20" x2="452.68" y2="432.50" stroke="#000" stroke-width="0.85"/>
<text x="452.68" y="441.10" font-size="8.16" text-anchor="middle" textLength="4.72" lengthAdjust="spacingAndGlyphs" fill="#111" stroke="#111" stroke-width="0.098" >3</text>
<line x1="472.43" y1="429.20" x2="472.43" y2="432.50" stroke="#000" stroke-width="0.85"/>
<text x="472.43" y="441.10" font-size="8.16" text-anchor="middle" textLength="4.72" lengthAdjust="spacingAndGlyphs" fill="#111" stroke="#111" stroke-width="0.098" >4</text>
<line x1="492.18" y1="429.20" x2="492.18" y2="432.50" stroke="#000" stroke-width="0.85"/>
<text x="492.18" y="441.10" font-size="8.16" text-anchor="middle" textLength="4.72" lengthAdjust="spacingAndGlyphs" fill="#111" stroke="#111" stroke-width="0.098" >5</text>
<line x1="511.92" y1="429.20" x2="511.92" y2="432.50" stroke="#000" stroke-width="0.85"/>
<text x="511.92" y="441.10" font-size="8.16" text-anchor="middle" textLength="4.72" lengthAdjust="spacingAndGlyphs" fill="#111" stroke="#111" stroke-width="0.098" >6</text>
<line x1="531.67" y1="429.20" x2="531.67" y2="432.50" stroke="#000" stroke-width="0.85"/>
<text x="531.67" y="441.10" font-size="8.16" text-anchor="middle" textLength="4.72" lengthAdjust="spacingAndGlyphs" fill="#111" stroke="#111" stroke-width="0.098" >7</text>
<line x1="551.42" y1="429.20" x2="551.42" y2="432.50" stroke="#000" stroke-width="0.85"/>
<text x="551.42" y="441.10" font-size="8.16" text-anchor="middle" textLength="4.72" lengthAdjust="spacingAndGlyphs" fill="#111" stroke="#111" stroke-width="0.098" >8</text>
<line x1="571.17" y1="429.20" x2="571.17" y2="432.50" stroke="#000" stroke-width="0.85"/>
<text x="571.17" y="441.10" font-size="8.16" text-anchor="middle" textLength="4.72" lengthAdjust="spacingAndGlyphs" fill="#111" stroke="#111" stroke-width="0.098" >9</text>
<line x1="590.92" y1="429.20" x2="590.92" y2="432.50" stroke="#000" stroke-width="0.85"/>
<text x="590.92" y="441.10" font-size="8.16" text-anchor="middle" textLength="9.44" lengthAdjust="spacingAndGlyphs" fill="#111" stroke="#111" stroke-width="0.098" >10</text>
<text x="502.05" y="450.50" font-size="8.16" text-anchor="middle" textLength="18.54" lengthAdjust="spacingAndGlyphs" fill="#111" stroke="#111" stroke-width="0.098" >Rank</text>
<text x="0.00" y="0.00" font-size="8.16" text-anchor="middle" textLength="85.78" lengthAdjust="spacingAndGlyphs" fill="#111" stroke="#111" stroke-width="0.098" transform="translate(381.10,340.90) rotate(-90)">Amount in USD dollars</text>
<text x="502.55" y="248.15" font-size="9.75" text-anchor="middle" textLength="193.48" lengthAdjust="spacingAndGlyphs" fill="#111" stroke="#111" stroke-width="0.117" >Top 10 most Importing nations (in Million)</text>
<rect x="621.30" y="255.30" width="62.90" height="80.10" rx="1.2" fill="#fff" fill-opacity="0.8" stroke="#d6dcd8" stroke-width="0.8"/>
<rect x="623.00" y="257.15" width="11.90" height="4.60" fill="#ea5a8e"/>
<text x="639.00" y="261.55" font-size="5.94" text-anchor="start" textLength="33.42" lengthAdjust="spacingAndGlyphs" fill="#111" stroke="#111" stroke-width="0.071" >south-sudan</text>
<rect x="623.00" y="265.03" width="11.90" height="4.60" fill="#7cf514"/>
<text x="639.00" y="269.43" font-size="5.94" text-anchor="start" textLength="35.65" lengthAdjust="spacingAndGlyphs" fill="#111" stroke="#111" stroke-width="0.071" >united-states</text>
<rect x="623.00" y="272.91" width="11.90" height="4.60" fill="#86e4f8"/>
<text x="639.00" y="277.31" font-size="5.94" text-anchor="start" textLength="14.62" lengthAdjust="spacingAndGlyphs" fill="#111" stroke="#111" stroke-width="0.071" >china</text>
<rect x="623.00" y="280.79" width="11.90" height="4.60" fill="#fc0515"/>
<text x="639.00" y="285.19" font-size="5.94" text-anchor="start" textLength="24.06" lengthAdjust="spacingAndGlyphs" fill="#111" stroke="#111" stroke-width="0.071" >germany</text>
<rect x="623.00" y="288.67" width="11.90" height="4.60" fill="#fddc0a"/>
<text x="639.00" y="293.07" font-size="5.94" text-anchor="start" textLength="24.85" lengthAdjust="spacingAndGlyphs" fill="#111" stroke="#111" stroke-width="0.071" >bahamas</text>
<rect x="623.00" y="296.55" width="11.90" height="4.60" fill="#fd6e12"/>
<text x="639.00" y="300.95" font-size="5.94" text-anchor="start" textLength="29.50" lengthAdjust="spacingAndGlyphs" fill="#111" stroke="#111" stroke-width="0.071" >micronesia</text>
<rect x="623.00" y="304.43" width="11.90" height="4.60" fill="#2d5efd"/>
<text x="639.00" y="308.83" font-size="5.94" text-anchor="start" textLength="21.00" lengthAdjust="spacingAndGlyphs" fill="#111" stroke="#111" stroke-width="0.071" >somalia</text>
<rect x="623.00" y="312.31" width="11.90" height="4.60" fill="#4cfa2a"/>
<text x="639.00" y="316.71" font-size="5.94" text-anchor="start" textLength="24.33" lengthAdjust="spacingAndGlyphs" fill="#111" stroke="#111" stroke-width="0.071" >maldives</text>
<rect x="623.00" y="320.19" width="11.90" height="4.60" fill="#3a1afa"/>
<text x="639.00" y="324.59" font-size="5.94" text-anchor="start" textLength="44.07" lengthAdjust="spacingAndGlyphs" fill="#111" stroke="#111" stroke-width="0.071" >marshall-islands</text>
<rect x="623.00" y="328.07" width="11.90" height="4.60" fill="#1f9668"/>
<text x="639.00" y="332.47" font-size="5.94" text-anchor="start" textLength="37.64" lengthAdjust="spacingAndGlyphs" fill="#111" stroke="#111" stroke-width="0.071" >guinea-bissau</text>
</svg>
</body></html>
